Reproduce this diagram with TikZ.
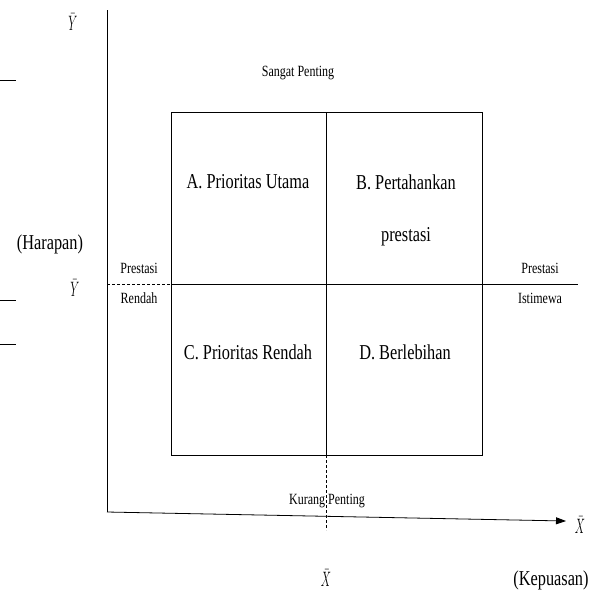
\documentclass[tikz,border=0pt]{standalone}
\usepackage{fontspec}
\setmainfont{Liberation Serif}
\usetikzlibrary{arrows.meta}
\newcommand{\tallbox}[1]{\scalebox{1}[1.3]{#1}}
\newcommand{\symbox}[1]{\scalebox{0.8}[1.45]{#1}}
\begin{document}
\begin{tikzpicture}[x=1pt,y=-1pt,
  big/.style={font=\fontsize{16.3}{18}\selectfont, inner sep=0pt},
  small/.style={font=\fontsize{12}{13}\selectfont, inner sep=0pt},
  lab/.style={font=\fontsize{14}{16}\selectfont, inner sep=0pt},
  ln/.style={line width=0.8pt},
  dsh/.style={line width=0.8pt, dash pattern=on 3pt off 2pt}]
\useasboundingbox (0,0) rectangle (593,590);
% coordinates
\coordinate (ytop) at (107,10);
\coordinate (orig) at (107,512);
\coordinate (xend) at (566,521);
\coordinate (bTL) at (171,112);
\coordinate (bBR) at (482,455);
\coordinate (mTop) at (326,112);
\coordinate (mBot) at (326,455);
\coordinate (mDash) at (326,530);
\coordinate (hL) at (107,284);
\coordinate (hM) at (171,284);
\coordinate (hR) at (578,284);
% axes
\draw[ln] (ytop) -- (orig);
\draw[ln,-{Triangle[length=10pt,width=7pt]}] (orig) -- (xend);
% box
\draw[ln] (bTL) rectangle (bBR);
\draw[ln] (mTop) -- (mBot);
\draw[dsh] (mBot) -- (mDash);
\draw[ln] (hM) -- (hR);
\draw[dsh] (hL) -- (hM);
% margin marks
\coordinate (m1a) at (0,80); \coordinate (m1b) at (16,80);
\coordinate (m2a) at (0,300); \coordinate (m2b) at (16,300);
\coordinate (m3a) at (0,344); \coordinate (m3b) at (16,344);
\draw[line width=1pt] (m1a) -- (m1b);
\draw[line width=1pt] (m2a) -- (m2b);
\draw[line width=1pt] (m3a) -- (m3b);
% texts
\node[lab] (ybar1) at (73,22) {\symbox{$\bar{Y}$}};
\node[small] (sp) at (298,73) {\tallbox{Sangat Penting}};
\node[big] (qa) at (248,182) {\tallbox{A. Prioritas Utama}};
\node[big] (qb1) at (406,182) {\tallbox{B. Pertahankan}};
\node[big] (qb2) at (406,237) {\tallbox{prestasi}};
\node[big] (har) at (50,244) {\tallbox{(Harapan)}};
\node[small] (pr1) at (139,268) {\tallbox{Prestasi}};
\node[small] (pr2) at (139,298) {\tallbox{Rendah}};
\node[lab] (ybar2) at (75,288) {\symbox{$\bar{Y}$}};
\node[small] (pi1) at (540,268) {\tallbox{Prestasi}};
\node[small] (pi2) at (540,298) {\tallbox{Istimewa}};
\node[big] (qc) at (248,352) {\tallbox{C. Prioritas Rendah}};
\node[big] (qd) at (405,352) {\tallbox{D. Berlebihan}};
\node[small] (kp) at (327,501) {\tallbox{Kurang Penting}};
\node[lab] (xbar1) at (580,525) {\symbox{$\bar{X}$}};
\node[lab] (xbar2) at (326,578) {\symbox{$\bar{X}$}};
\node[big] (kep) at (551,580) {\tallbox{(Kepuasan)}};
\end{tikzpicture}
\end{document}
